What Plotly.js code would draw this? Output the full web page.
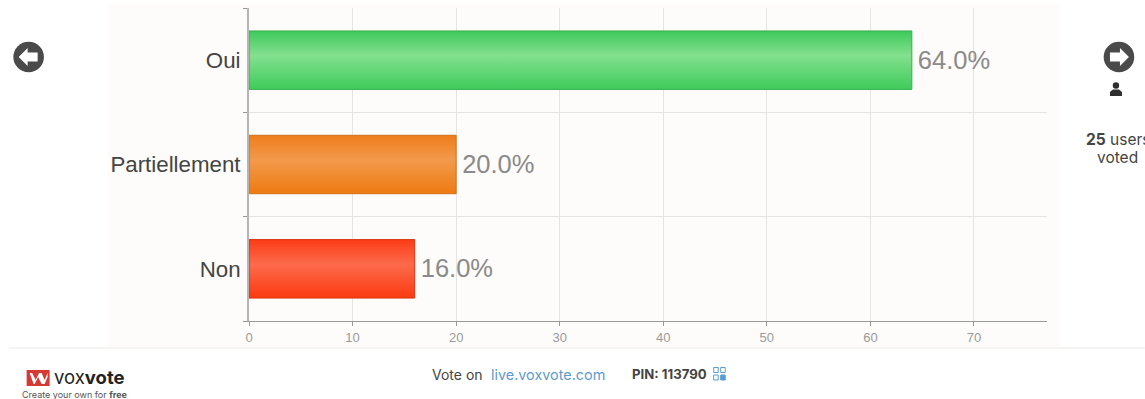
<!DOCTYPE html>
<html>
<head>
<meta charset="utf-8">
<script src="https://cdn.plot.ly/plotly-3.0.1.min.js"></script>
<style>html,body{margin:0;padding:0;background:#fff;overflow:hidden}#poll{width:1145px;height:399px}</style>
</head>
<body>
<div id="poll"></div>
<script>
// Poll results
const answers = ["Oui", "Partiellement", "Non"];
const shares = [64, 20, 16];
const valueLabels = ["64.0%", "20.0%", "16.0%"];
const xTicks = [0, 10, 20, 30, 40, 50, 60, 70];
const barStops = [
  ["#3fc95b", "#84e08f", "#3ecb5a"],
  ["#ee7d1c", "#f29a4b", "#ee7a12"],
  ["#fb3c16", "#fc6a4b", "#fb3a10"]
];
const barEdges = ["#35b04e", "#d0711a", "#d9330f"];

const W = 1145, H = 399;
const M = {l: 248.5, r: 98, t: 8, b: 78};
const fx = x => (x - M.l) / (W - M.l - M.r);
const fy = y => 1 - (y - M.t) / (H - M.t - M.b);

// Path in page pixels, converted to paper fractions
function pagePath(cmds) {
  return cmds.map(c => c[0] + c.slice(1).map((v, i) => (i % 2 ? fy(v) : fx(v)).toFixed(5)).join(",")).join(" ") ;
}
function shapePath(cmds, color) {
  return {type: "path", xref: "paper", yref: "paper", path: pagePath(cmds), fillcolor: color, line: {width: 0}, layer: "above"};
}
function disc(cx, cy, r, color) {
  return {type: "circle", xref: "paper", yref: "paper", x0: fx(cx - r), x1: fx(cx + r), y0: fy(cy + r), y1: fy(cy - r),
          fillcolor: color, line: {width: 0}, layer: "above"};
}
function box(x0, y0, x1, y1, fill, layer, stroke) {
  return {type: "rect", xref: "paper", yref: "paper", x0: fx(x0), x1: fx(x1), y0: fy(y1), y1: fy(y0),
          fillcolor: fill, line: stroke ? {color: stroke, width: 1} : {width: 0}, layer: layer || "above"};
}
function arrow(cx, cy, dir) {
  const p = (dx, dy) => [cx + dir * dx, cy + dy];
  const pts = [p(10, 0), p(1, -9), p(1, -4.5), p(-9, -4.5), p(-9, 4.5), p(1, 4.5), p(1, 9)];
  return shapePath(pts.map((q, i) => [i ? "L" : "M", q[0], q[1]]).concat([["Z"]]), "#ffffff");
}
function note(x, y, text, size, color, anchor, family) {
  return {xref: "paper", yref: "paper", x: fx(x), y: fy(y), text, showarrow: false, xanchor: anchor || "left", yanchor: "middle",
          align: anchor || "left", font: {size, color, family: family || "Inter, 'Open Sans', sans-serif"}};
}

const decor = [
  // Panel behind the chart and the footer rule
  box(107, 4, 1060, 347, "#fdfcfa", "below"),
  box(8, 347.5, 1145, 348.5, "#ececea", "below"),
  // Navigation buttons
  disc(28, 57, 15.3, "#4a4a4a"), arrow(28, 57, -1),
  disc(1119, 57, 15.3, "#4a4a4a"), arrow(1119, 57, 1),
  // Voter icon
  disc(1116, 85.5, 3.2, "#2f2f2f"),
  shapePath([["M", 1110, 96], ["L", 1110, 92], ["L", 1113, 89.5], ["L", 1119, 89.5], ["L", 1122, 92], ["L", 1122, 96], ["Z"]], "#2f2f2f"),
  // Brand mark
  box(26, 370, 49, 386, "#d63a34"),
  shapePath([["M", 29, 373], ["L", 31.5, 373], ["L", 35, 380], ["L", 38.5, 373], ["L", 41, 373], ["L", 44, 380], ["L", 47, 373], ["L", 47, 377], ["L", 44, 384], ["L", 41, 384], ["L", 37.5, 377], ["L", 34, 384], ["L", 33, 384], ["Z"]], "#ffffff"),
  // QR glyph
  box(713.5, 367.5, 718, 372.5, "rgba(0,0,0,0)", "above", "#5b9bd0"),
  box(720.5, 367.5, 725, 372.5, "rgba(0,0,0,0)", "above", "#5b9bd0"),
  box(713.5, 375, 718, 380, "rgba(0,0,0,0)", "above", "#5b9bd0"),
  box(720.5, 375, 725, 380, "#5b9bd0", "above", "#5b9bd0")
];

const footer = [
  note(1118, 140, "<b>25</b> users", 15.5, "#444444", "center"),
  note(1118, 157, "voted", 15.5, "#444444", "center"),
  note(51, 377, "vox<b>vote</b>", 18.5, "#222222"),
  note(19, 394, "Create your own for <b>free</b>", 9, "#555555"),
  note(430, 374, "Vote on", 14, "#444444"),
  note(489, 374, "live.voxvote.com", 14.4, "#5b9bd0"),
  note(630, 374, "<b>PIN: 113790</b>", 13.2, "#444444")
];

const trace = {
  type: "bar",
  orientation: "h",
  y: answers,
  x: shares,
  width: 0.56,
  marker: {color: barEdges, line: {color: barEdges, width: 1}},
  text: valueLabels,
  textposition: "outside",
  cliponaxis: false,
  textfont: {family: "'Liberation Sans', Arial, sans-serif", size: 25.5, color: "#8a8a8a"},
  hoverinfo: "skip"
};

const layout = {
  width: W, height: H,
  margin: M,
  paper_bgcolor: "#ffffff",
  plot_bgcolor: "rgba(0,0,0,0)",
  showlegend: false,
  bargap: 0.44,
  font: {family: "'Liberation Sans', Arial, sans-serif"},
  xaxis: {
    range: [0, 77.05], tickvals: xTicks, ticktext: xTicks.map(String),
    ticks: "outside", ticklen: 4, tickcolor: "#999999", tickwidth: 1,
    showline: true, linecolor: "#9a9a9a", linewidth: 1,
    gridcolor: "#e4e4e4", gridwidth: 1, zeroline: false,
    tickfont: {size: 13, color: "#9a9a9a"}
  },
  yaxis: {
    type: "category", categoryorder: "array", categoryarray: answers.slice().reverse(),
    tickson: "boundaries", ticks: "outside", ticklen: 4, tickcolor: "#999999", tickwidth: 1,
    ticklabelstandoff: 2,
    showline: true, linecolor: "#b5b5b5", linewidth: 2,
    gridcolor: "#e4e4e4", gridwidth: 1, zeroline: false,
    tickfont: {size: 22.3, color: "#444444"}
  },
  shapes: decor,
  annotations: footer
};

Plotly.newPlot("poll", [trace], layout, {displayModeBar: false, staticPlot: true}).then(gd => {
  // Vertical sheen on each bar through SVG gradients
  const svg = gd.querySelector("svg.main-svg");
  const NS = "http://www.w3.org/2000/svg";
  const defs = svg.querySelector("defs") || svg.insertBefore(document.createElementNS(NS, "defs"), svg.firstChild);
  gd.querySelectorAll(".barlayer .point").forEach((pt, i) => {
    const g = document.createElementNS(NS, "linearGradient");
    g.id = "sheen" + i;
    g.setAttribute("x1", "0"); g.setAttribute("y1", "0");
    g.setAttribute("x2", "0"); g.setAttribute("y2", "1");
    [[0, 0], [0.42, 1], [1, 2]].forEach(([at, idx]) => {
      const s = document.createElementNS(NS, "stop");
      s.setAttribute("offset", at);
      s.setAttribute("stop-color", barStops[i][idx]);
      g.appendChild(s);
    });
    defs.appendChild(g);
    pt.querySelector("path").style.fill = "url(#sheen" + i + ")";
    // A little more air between bar end and value label
    const label = pt.querySelector("text");
    if (label) label.setAttribute("transform", "translate(3,-0.5) " + (label.getAttribute("transform") || ""));
  });
});
</script>
</body>
</html>
